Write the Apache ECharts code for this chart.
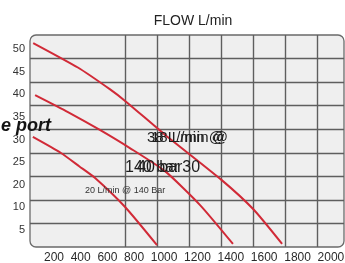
<!DOCTYPE html>
<html>
<head>
<meta charset="utf-8">
<script src="https://cdn.jsdelivr.net/npm/echarts@6/dist/echarts.min.js"></script>
<style>
  html, body { margin: 0; padding: 0; background: #fff; }
  #chart { width: 345px; height: 263px; }
</style>
</head>
<body>
<div id="chart"></div>
<script>
// pressure rows (bottom -> top) and flow tick labels
const pressureLabels = ['5', '10', '20', '25', '30', '35', '40', '45', '50']
const flowLabels = ['200', '400', '600', '800', '1000', '1200', '1400', '1600', '1800', '2000']

// curves, in grid units: [column, row]
const curveHigh = [[0.1, 8.66], [1.5, 7.62], [2.5, 6.7], [3.0, 6.18], [4.2, 4.8], [6.0, 2.85], [7.0, 1.6], [7.9, 0.13]]
const curveMid = [[0.16, 6.45], [1.19, 5.73], [2.19, 4.97], [3.13, 4.2], [4.23, 3.22], [5.33, 1.78], [6.36, 0.13]]
const curveLow = [[0.09, 4.67], [0.97, 3.99], [1.55, 3.42], [2.04, 2.93], [2.98, 1.7], [3.98, 0.08]]

const gridColor = '#5e5e5e'
const curveColor = '#d12a37'
const font = 'Liberation Sans, Arial, sans-serif'

const chart = echarts.init(document.getElementById('chart'))

const T = 'transparent'
const G = gridColor

const curve = (data) => ({
  type: 'line',
  xAxisIndex: 0,
  yAxisIndex: 0,
  data: data,
  smooth: 0.2,
  symbol: 'none',
  lineStyle: { color: curveColor, width: 2 },
  z: 3
})

// overlapping annotation text in the middle of the plot
const note = (text, x, y, size) => ({
  type: 'text',
  z: 10,
  style: { text: text, x: x, y: y, verticalAlign: 'middle', font: size + 'px ' + font, fill: '#1e1e1e' }
})

chart.setOption({
  animation: false,
  title: {
    text: 'FLOW L/min',
    left: 188,
    top: 9,
    textAlign: 'center',
    textStyle: { fontFamily: font, fontSize: 14, fontWeight: 'normal', color: '#222' }
  },
  grid: [
    { left: 30, top: 35, width: 314, height: 212 },
    // only for the pressure labels
    { left: 30, top: 37.7, width: 314, height: 203.6 }
  ],
  xAxis: [
    {
      type: 'value',
      gridIndex: 0,
      min: 0,
      max: 9.84,
      interval: 1,
      axisLine: { show: false },
      axisTick: { show: false },
      axisLabel: { show: false },
      splitLine: { lineStyle: { color: [T, T, T, G, G, G, G, G, G, G, T], width: 1.4 } }
    },
    {
      type: 'value',
      gridIndex: 1,
      show: false
    }
  ],
  yAxis: [
    {
      type: 'value',
      gridIndex: 0,
      min: 0,
      max: 9,
      interval: 1,
      axisLine: { show: false },
      axisTick: { show: false },
      axisLabel: { show: false },
      splitLine: { lineStyle: { color: [T, G, G, G, G, G, G, G, G, T], width: 1.4 } }
    },
    {
      type: 'category',
      gridIndex: 1,
      data: pressureLabels,
      boundaryGap: true,
      axisLine: { show: false },
      axisTick: { show: false },
      splitLine: { show: false },
      axisLabel: { margin: 5, fontFamily: font, fontSize: 11, color: '#333' }
    }
  ],
  graphic: [
    {
      type: 'rect',
      z: -10,
      shape: { x: 30, y: 35, width: 314, height: 212, r: 6 },
      style: { fill: '#efefef', stroke: '#6a6a6a', lineWidth: 1.3 }
    },
    {
      type: 'text',
      z: 10,
      style: {
        text: flowLabels.join('  '),
        x: 44, y: 258,
        verticalAlign: 'middle',
        font: '12px ' + font,
        fill: '#2a2a2a'
      }
    },
    {
      type: 'text',
      z: 10,
      style: {
        text: 'e port',
        x: 1, y: 126,
        verticalAlign: 'middle',
        font: 'italic bold 18px ' + font,
        fill: '#141414'
      }
    },
    note('38 L/min @', 147, 138, 15),
    note('18 L/min @', 151, 138, 15),
    note('140 bar', 125, 168, 16),
    note('40 bar30', 137, 168, 16),
    {
      type: 'text',
      z: 10,
      style: { text: '20 L/min @ 140 Bar', x: 85, y: 191, verticalAlign: 'middle', font: '9px ' + font, fill: '#333' }
    }
  ],
  series: [curve(curveHigh), curve(curveMid), curve(curveLow)]
})
</script>
</body>
</html>
